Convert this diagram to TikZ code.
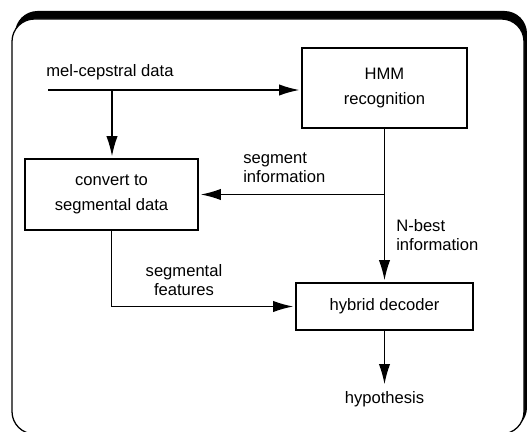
\documentclass[tikz,border=0pt]{standalone}
\usepackage{fontspec}
\setmainfont{Liberation Sans}
\usetikzlibrary{arrows.meta}

\begin{document}
\begin{tikzpicture}[x=0.025cm,y=-0.025cm,
  box/.style={draw,line width=0.9pt,align=center,inner sep=0pt,font=\fontsize{11.8}{17.5}\selectfont},
  lbl/.style={inner sep=0pt,font=\fontsize{11.8}{13.5}\selectfont},
  flow/.style={line width=0.9pt,-{Latex[length=0.5cm,width=0.28cm]},shorten >=1.5pt}]
\useasboundingbox (0,0) rectangle (527,432);

% Frame with shadow
\fill[rounded corners=16pt] (15,11) rectangle (527,430);
\filldraw[fill=white,line width=0.9pt,rounded corners=16pt] (12,19) rectangle (524,434);

% Blocks
\node[box,minimum width=4.125cm,minimum height=2cm] (hmm) at (384.5,88) {HMM\\recognition};
\node[box,minimum width=4.325cm,minimum height=1.775cm] (conv) at (111.5,194.5) {convert to\\segmental data};
\node[box,minimum width=4.425cm,minimum height=1.175cm] (hyb) at (384.5,306.5) {hybrid decoder};

% Labels
\node[lbl,anchor=base west] (mel) at (46,77) {mel-cepstral data};
\node[lbl,anchor=west,align=left] (seginfo) at (243,168) {segment\\information};
\node[lbl,anchor=west,align=left] (nbest) at (396,235) {N-best\\information};
\node[lbl,align=center] (segfeat) at (184,280) {segmental\\features};
\node[lbl,anchor=north] (hyp) at (384.5,391) {hypothesis};
\coordinate (in) at (48,90);
\coordinate (split) at (112,90);
\coordinate (segsplit) at (hmm.south |- conv.east);

% Arrows
\draw[flow] (in) -- (in -| hmm.west);
\draw[flow] (split) -- (split |- conv.north);
\draw[flow] (hmm.south) -- (hyb.north);
\draw[flow] (segsplit) -- (conv.east);
\draw[flow] (conv.south) |- (hyb.west);
\draw[flow,shorten >=0.17cm] (hyb.south) -- (hyp.north);
\end{tikzpicture}
\end{document}
